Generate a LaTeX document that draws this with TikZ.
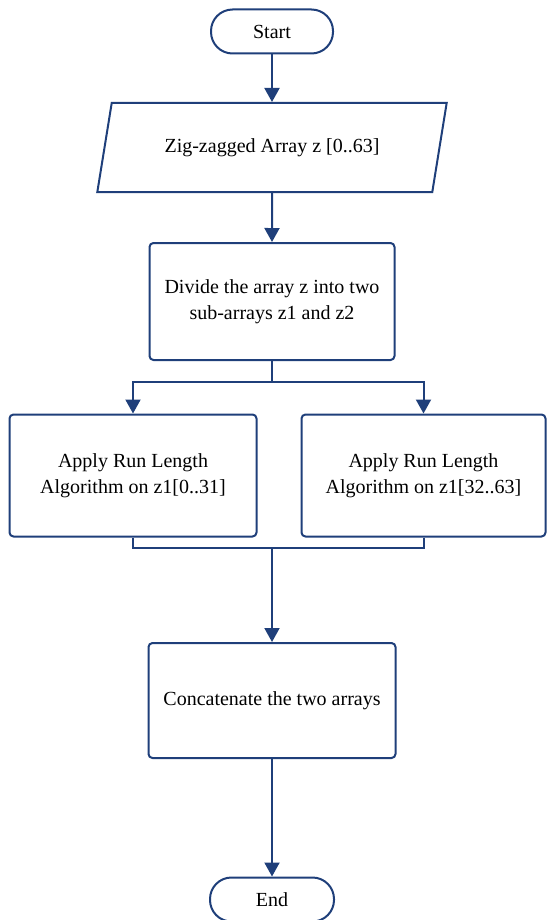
\documentclass[tikz,border=0pt]{standalone}
\usepackage{fontspec}
\setmainfont{Liberation Serif}
\usetikzlibrary{shapes.geometric,arrows.meta}
\definecolor{flowblue}{RGB}{31,63,122}

\begin{document}
\begin{tikzpicture}[x=0.5pt, y=0.5pt, thick, line width=1pt,
    >={Triangle[length=7pt,width=7.5pt]},
    every node/.style = {font=\fontsize{10}{13}\selectfont, text=black},
    term/.style = {draw=flowblue, rounded corners=10.75pt, minimum width=61pt, minimum height=22pt},
    io/.style = {draw=flowblue, trapezium, trapezium left angle=72, trapezium right angle=108,
                 trapezium stretches=true, minimum width=175pt, minimum height=44.5pt},
    process/.style = {draw=flowblue, rounded corners=2pt, align=center, minimum width=123.5pt, minimum height=61pt}]
      \useasboundingbox (0,0) rectangle (547,-920);
      \clip (0,0) rectangle (547,-920);
      \node[term] (start) at (272,-31.5) {Start};
      \node[io] (input) [below of=start, node distance=58pt] {Zig-zagged Array z [0..63]};
      \node[process, minimum width=122.5pt, minimum height=58.5pt] (divide) [below of=input, node distance=77pt] {Divide the array z into two\\sub-arrays z1 and z2};
      \node[process] (left) [below of=divide, node distance=87pt, xshift=-69.5pt] {Apply Run Length\\Algorithm on z1[0..31]};
      \node[process, minimum width=122pt] (right) [below of=divide, node distance=87pt, xshift=75.75pt] {Apply Run Length\\Algorithm on z1[32..63]};
      \node[process, minimum height=57.5pt] (concat) [below of=divide, node distance=199.5pt] {Concatenate the two arrays};
      \node[term, minimum width=62pt] (end) [below of=concat, node distance=99.5pt] {End};
      \coordinate[below of=divide, node distance=40.25pt] (split);
      \coordinate[above of=concat, node distance=76.25pt] (merge);
      \draw[->, flowblue] (start) -- (input);
      \draw[->, flowblue] (input) -- (divide);
      \draw[->, flowblue] (divide) -- (split) -| (left);
      \draw[->, flowblue] (split) -| (right);
      \draw[flowblue] (left) |- (merge);
      \draw[flowblue] (right) |- (merge);
      \draw[->, flowblue] (merge) -- (concat);
      \draw[->, flowblue] (concat) -- (end);
    \end{tikzpicture}
\end{document}
